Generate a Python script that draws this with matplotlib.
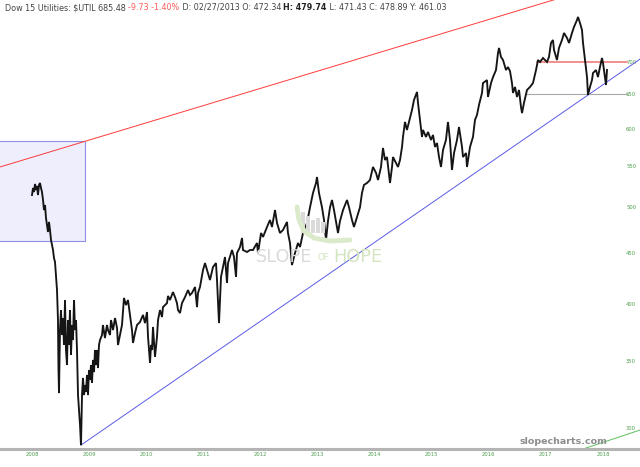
import matplotlib
matplotlib.use('Agg')
import matplotlib.pyplot as plt
from matplotlib.patches import Rectangle
from matplotlib.lines import Line2D
from matplotlib.ticker import NullLocator

# closes (fractional year on the chart's own axis, price)
years = [
    2008.000, 2008.018, 2008.035, 2008.053, 2008.070, 2008.088, 2008.105, 2008.123,
    2008.140, 2008.158, 2008.175, 2008.193, 2008.210, 2008.228, 2008.245, 2008.263,
    2008.280, 2008.298, 2008.315, 2008.333, 2008.350, 2008.368, 2008.385, 2008.403,
    2008.420, 2008.438, 2008.447, 2008.455, 2008.464, 2008.473, 2008.490, 2008.508,
    2008.525, 2008.543, 2008.560, 2008.578, 2008.595, 2008.613, 2008.630, 2008.648,
    2008.665, 2008.683, 2008.701, 2008.718, 2008.736, 2008.753, 2008.771, 2008.788,
    2008.806, 2008.823, 2008.841, 2008.858, 2008.876, 2008.893, 2008.911, 2008.928,
    2008.946, 2008.963, 2008.981, 2008.998, 2009.016, 2009.033, 2009.051, 2009.068,
    2009.086, 2009.103, 2009.121, 2009.138, 2009.156, 2009.173, 2009.191, 2009.226,
    2009.243, 2009.278, 2009.313, 2009.331, 2009.366, 2009.384, 2009.419, 2009.454,
    2009.489, 2009.506, 2009.541, 2009.576, 2009.611, 2009.646, 2009.681, 2009.716,
    2009.751, 2009.769, 2009.804, 2009.839, 2009.891, 2009.944, 2009.979, 2010.014,
    2010.032, 2010.067, 2010.084, 2010.102, 2010.119, 2010.154, 2010.189, 2010.207,
    2010.242, 2010.277, 2010.294, 2010.364, 2010.382, 2010.417, 2010.469, 2010.504,
    2010.539, 2010.557, 2010.592, 2010.627, 2010.680, 2010.732, 2010.767, 2010.802,
    2010.855, 2010.890, 2010.907, 2010.942, 2010.995, 2011.030, 2011.065, 2011.117,
    2011.170, 2011.222, 2011.240, 2011.275, 2011.310, 2011.345, 2011.380, 2011.415,
    2011.433, 2011.503, 2011.538, 2011.573, 2011.590, 2011.643, 2011.678, 2011.695,
    2011.765, 2011.818, 2011.870, 2011.940, 2011.958, 2012.011, 2012.046, 2012.116,
    2012.168, 2012.203, 2012.256, 2012.291, 2012.343, 2012.396, 2012.466, 2012.483,
    2012.518, 2012.553, 2012.606, 2012.658, 2012.694, 2012.746, 2012.816, 2012.869,
    2012.921, 2012.974, 2012.991, 2013.026, 2013.079, 2013.114, 2013.149, 2013.184,
    2013.219, 2013.254, 2013.289, 2013.342, 2013.359, 2013.394, 2013.447, 2013.517,
    2013.552, 2013.604, 2013.639, 2013.692, 2013.744, 2013.779, 2013.814, 2013.867,
    2013.919, 2013.972, 2014.025, 2014.060, 2014.112, 2014.147, 2014.182, 2014.217,
    2014.270, 2014.305, 2014.322, 2014.375, 2014.410, 2014.445, 2014.480, 2014.497,
    2014.532, 2014.567, 2014.602, 2014.655, 2014.690, 2014.743, 2014.760, 2014.795,
    2014.830, 2014.848, 2014.900, 2014.935, 2014.988, 2015.023, 2015.058, 2015.093,
    2015.128, 2015.163, 2015.198, 2015.250, 2015.285, 2015.320, 2015.355, 2015.391,
    2015.443, 2015.478, 2015.531, 2015.548, 2015.601, 2015.618, 2015.671, 2015.723,
    2015.758, 2015.793, 2015.828, 2015.881, 2015.898, 2015.968, 2015.986, 2016.039,
    2016.074, 2016.126, 2016.161, 2016.179, 2016.214, 2016.249, 2016.301, 2016.336,
    2016.371, 2016.406, 2016.424, 2016.459, 2016.494, 2016.529, 2016.564, 2016.582,
    2016.616, 2016.669, 2016.722, 2016.774, 2016.827, 2016.862, 2016.897, 2016.949,
    2017.019, 2017.054, 2017.089, 2017.124, 2017.142, 2017.194, 2017.229, 2017.282,
    2017.317, 2017.370, 2017.405, 2017.457, 2017.492, 2017.545, 2017.562, 2017.597,
    2017.632, 2017.650, 2017.685, 2017.720, 2017.737, 2017.772, 2017.807, 2017.825,
    2017.877, 2017.912, 2017.947, 2017.982, 2018.000, 2018.035, 2018.053, 2018.070,
]
close = [
    514.5, 522.9, 518.1, 527.8, 520.5, 525.4, 514.5, 526.6,
    529.0, 522.9, 518.1, 508.6, 496.9, 502.7, 487.9, 480.0,
    472.3, 483.4, 474.5, 463.6, 458.3, 453.0, 444.7, 440.6,
    427.5, 412.9, 398.8, 385.2, 343.1, 325.3, 376.4, 394.2,
    372.1, 387.0, 363.6, 403.5, 359.4, 347.1, 385.2, 363.6,
    394.2, 355.3, 380.8, 367.8, 403.5, 376.4, 385.2, 359.4,
    323.8, 312.8, 302.1, 288.4, 323.8, 336.9, 323.8, 331.4,
    326.1, 339.2, 323.8, 343.1, 335.3, 347.1, 333.0, 351.2,
    341.5, 359.4, 347.1, 359.4, 344.7, 363.6, 367.8, 372.1,
    380.8, 369.5, 380.8, 376.4, 372.1, 385.2, 376.4, 387.0,
    378.2, 363.6, 372.1, 380.8, 405.4, 398.8, 403.5, 389.8,
    376.4, 365.3, 373.8, 380.8, 383.4, 389.8, 382.5, 392.4,
    370.4, 348.8, 363.6, 359.4, 379.1, 353.7, 370.4, 385.2,
    394.2, 387.9, 396.9, 400.6, 407.3, 403.5, 411.0, 406.3,
    400.6, 394.2, 391.5, 400.6, 406.3, 412.9, 408.2, 410.1,
    415.8, 396.9, 410.1, 415.8, 432.5, 439.5, 432.5, 422.6,
    435.5, 439.5, 422.6, 382.5, 425.6, 435.5, 445.7, 419.7,
    439.5, 453.0, 445.7, 425.6, 449.8, 456.2, 465.8, 453.0,
    450.9, 453.0, 453.0, 460.4, 449.8, 471.2, 466.9, 477.8,
    485.6, 477.8, 496.9, 482.2, 471.2, 474.5, 483.4, 471.2,
    460.4, 437.5, 449.8, 460.4, 456.2, 471.2, 482.2, 500.0,
    516.9, 529.0, 536.4, 516.9, 500.0, 485.6, 463.6, 484.5,
    500.0, 508.6, 496.9, 477.8, 471.2, 484.5, 496.9, 508.6,
    500.0, 485.6, 477.8, 489.0, 500.0, 516.9, 526.6, 529.0,
    532.7, 549.0, 541.5, 532.7, 549.0, 573.7, 557.9, 561.8,
    529.0, 549.0, 561.8, 554.0, 549.0, 557.9, 575.0, 588.5,
    609.3, 598.1, 609.3, 626.4, 641.1, 653.1, 636.7, 612.1,
    588.5, 598.1, 588.5, 595.3, 584.4, 591.2, 575.0, 580.3,
    561.8, 549.0, 571.0, 584.4, 609.3, 584.4, 545.2, 567.0,
    584.4, 602.2, 575.0, 561.8, 567.0, 549.0, 575.0, 588.5,
    612.1, 619.2, 633.7, 651.6, 666.7, 671.3, 645.6, 666.7,
    676.0, 687.1, 714.7, 723.1, 708.1, 703.2, 687.1, 691.9,
    685.5, 666.7, 651.6, 660.7, 645.6, 656.1, 630.8, 621.9,
    636.7, 656.1, 660.7, 666.7, 687.1, 703.2, 700.0, 706.5,
    700.0, 708.1, 731.5, 736.6, 719.7, 703.2, 723.1, 736.6,
    748.6, 740.0, 731.5, 748.6, 759.1, 771.5, 776.9, 766.2,
    753.8, 731.5, 703.2, 676.0, 648.6, 660.7, 671.3, 682.4,
    687.1, 676.0, 691.9, 706.5, 698.4, 676.0, 663.7, 687.1,
]

year_ticks = list(range(2008, 2019))
price_ticks = [300, 350, 400, 450, 500, 550, 600, 650, 700]

# drawn annotations, in (year, price)
red_trend_x = [2007.44, 2017.5]
red_trend_y = [549.0, 820.0]
blue_trend_x = [2008.858, 2018.70]
blue_trend_y = [288.4, 708.0]
green_line_x = [2017.45, 2018.70]
green_line_y = [283.3, 299.3]
resist_x = [2016.84, 2018.42]
resist_level = 700
support_x = [2016.63, 2018.42]
support_level = 650
box_x = [2007.30, 2008.928]
box_y = [462.5, 583.0]

W, H = 640, 467
fig = plt.figure(figsize=(W / 100, H / 100), dpi=100)
ax = fig.add_axes([0, 18 / H, 1, 449 / H])
ax.set_yscale('log')
ax.set_xlim(2007.4396, 2018.648)
ax.set_ylim(285.8, 808.0)

ax.add_patch(Rectangle((box_x[0], box_y[0]), box_x[1] - box_x[0], box_y[1] - box_y[0],
                       facecolor='#eeeefd', edgecolor='#8f8fea', lw=0.8, zorder=1))

ax.plot(red_trend_x, red_trend_y, color='#ff3b3b', lw=0.7, zorder=2)
ax.plot(blue_trend_x, blue_trend_y, color='#5a5ae6', lw=0.7, zorder=2)
ax.plot(green_line_x, green_line_y, color='#5cc05c', lw=0.7, zorder=2)
ax.plot(resist_x, [resist_level] * 2, color='#f07c7c', lw=1.2, zorder=2)
ax.plot(support_x, [support_level] * 2, color='#a8a8a8', lw=0.8, zorder=2)

ax.plot(years, close, color='#151515', lw=1.35, zorder=3, solid_joinstyle='miter')

# axes styling
for s in ['top', 'left', 'right']:
    ax.spines[s].set_visible(False)
ax.spines['bottom'].set_color('#b4b4b4')
ax.spines['bottom'].set_linewidth(2.2)

ax.yaxis.tick_right()
ax.set_yticks(price_ticks)
ax.set_yticklabels([str(p) for p in price_ticks])
ax.yaxis.set_minor_locator(NullLocator())
ax.tick_params(axis='y', length=0, pad=-10, labelsize=3.8, labelcolor='#4e9e4e')

ax.set_xticks(year_ticks)
ax.set_xticklabels([str(y) for y in year_ticks])
ax.tick_params(axis='x', length=0, pad=2.5, labelsize=3.8, labelcolor='#4e9e4e')

# watermark logo
def fx(px):
    return px / W

def fy(py):
    return 1 - py / H

bars = [(301, 212), (306, 216), (311, 220), (316, 218), (321, 222)]
for bx, top in bars:
    fig.add_artist(Rectangle((fx(bx), fy(233)), 3.5 / W, (233 - top) / H,
                             transform=fig.transFigure, color='#dadada', lw=0))
swoosh = [(297, 207), (299, 220), (304, 231), (314, 238), (330, 241), (350, 240)]
fig.add_artist(Line2D([fx(p[0]) for p in swoosh], [fy(p[1]) for p in swoosh],
                      transform=fig.transFigure, color='#dbeacb', lw=3.5,
                      solid_capstyle='round'))
fig.text(fx(256), fy(262), 'SLOPE', fontsize=12.8, color='#dadada', va='baseline')
fig.text(fx(318), fy(260), 'OF', fontsize=6, color='#d3e3c2', va='baseline')
fig.text(fx(333), fy(262), 'HOPE', fontsize=12.8, color='#d3e5bf', va='baseline')

fig.text(fx(607), fy(444), 'slopecharts.com', fontsize=6.8, fontweight='bold',
         color='#8c8c8c', ha='right', va='baseline')

# header line, segments chained one after another
segments = [
    ('Dow 15 Utilities: $UTIL 685.48 ', '#444444', 'normal'),
    ('-9.73 -1.40%', '#ff5c5c', 'normal'),
    (' D: 02/27/2013 O: 472.34 ', '#444444', 'normal'),
    ('H: 479.74', '#222222', 'bold'),
    (' L: 471.43 C: 478.89 Y: 461.03', '#444444', 'normal'),
]
prev = None
for txt, col, wt in segments:
    if prev is None:
        prev = fig.text(fx(5), fy(12), txt, fontsize=5.8, color=col,
                        fontweight=wt, va='bottom')
    else:
        prev = ax.annotate(txt, xy=(1, 0), xycoords=prev, fontsize=5.8,
                           color=col, fontweight=wt, va='bottom', ha='left')

fig.savefig('out.png', dpi=100)
